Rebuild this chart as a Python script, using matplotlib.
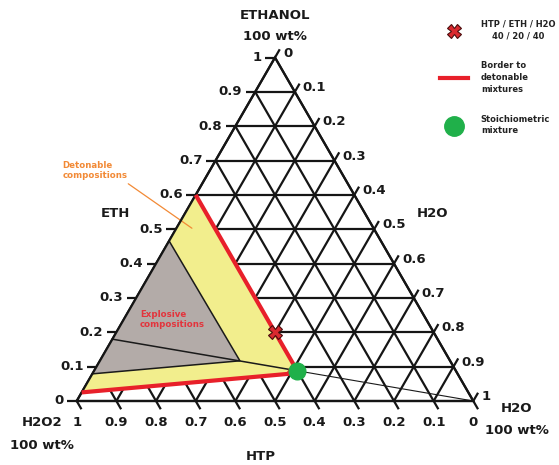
import numpy as np
import matplotlib

matplotlib.use("Agg")
import matplotlib.pyplot as plt
from matplotlib.lines import Line2D

# Compositions are mass fractions (HTP, ETH); H2O = 1 - HTP - ETH
tick_values = [0.0, 0.1, 0.2, 0.3, 0.4, 0.5, 0.6, 0.7, 0.8, 0.9, 1.0]

# detonable region border (red line), ends on the left edge
detonable_htp = [0.40, 0.40, 0.427, 0.975]
detonable_eth = [0.60, 0.105, 0.079, 0.025]

# explosive region (grey), ends on the left edge
explosive_htp = [0.534, 0.530, 0.921]
explosive_eth = [0.466, 0.117, 0.079]

# HTP/ETH dilution line towards pure water
dilution_htp = [0.82, 0.40, 0.0]
dilution_eth = [0.18, 0.088, 0.0]

mix_htp, mix_eth = 0.40, 0.20
stoich_htp, stoich_eth = 0.40, 0.088

S = np.sqrt(3) / 2
TICK = 0.024
GRID = "#151515"


def tern(htp, eth):
    htp = np.asarray(htp, dtype=float)
    eth = np.asarray(eth, dtype=float)
    h2o = 1 - htp - eth
    return h2o + eth / 2, eth * S


def fmt(v):
    if v == 0:
        return "0"
    if v == 1:
        return "1"
    return f"{v:.1f}"


fig = plt.figure(figsize=(5.59, 4.65), dpi=100)
ax = fig.add_axes([0, 0, 1, 1])
ax.set_xlim(-0.1934, 1.2161)
ax.set_ylim(-0.1614, 1.0111)
ax.axis("off")

# grid + ticks
for v in tick_values:
    x0, y0 = tern(1 - v, v)
    x1, y1 = tern(0, v)
    ax.plot([x0 - TICK, x1], [y0, y1], color=GRID, lw=1.6, zorder=1,
            solid_capstyle="butt")
    x0, y0 = tern(1 - v, 0)
    x1, y1 = tern(0, 1 - v)
    ax.plot([x0, x1 + TICK * 0.5], [y0, y1 + TICK * S], color=GRID, lw=1.6,
            zorder=1, solid_capstyle="butt")
    x0, y0 = tern(v, 1 - v)
    x1, y1 = tern(v, 0)
    ax.plot([x0, x1 + TICK * 0.5], [y0, y1 - TICK * S], color=GRID, lw=1.6,
            zorder=1, solid_capstyle="butt")

# regions
dx, dy = tern(detonable_htp, detonable_eth)
ax.fill(dx, dy, color="#f2ee8d", zorder=2, lw=0)
ex, ey = tern(explosive_htp, explosive_eth)
ax.fill(ex, ey, color="#b3aba8", zorder=3, lw=0)
ax.plot(ex, ey, color="#1a1a1a", lw=1.1, zorder=4)

lx, ly = tern(dilution_htp, dilution_eth)
ax.plot(lx[:2], ly[:2], color="#1a1a1a", lw=1.1, zorder=4)
ax.plot(lx[1:], ly[1:], color="#1a1a1a", lw=0.8, zorder=4)

# triangle outline over the fills
cx, cy = tern([1, 0, 0, 1], [0, 1, 0, 0])
ax.plot(cx, cy, color=GRID, lw=1.6, zorder=4, solid_joinstyle="miter")

ax.plot(dx, dy, color="#e8202a", lw=3.0, zorder=5, solid_capstyle="butt")

px, py = tern(mix_htp, mix_eth)
ax.plot(px, py, marker="X", ms=10, mfc="#d92a2f", mec="#4a0d0d", mew=0.8,
        ls="none", zorder=6)
sx, sy = tern(stoich_htp, stoich_eth)
ax.plot(sx, sy, marker="o", ms=12, color="#20b04a", ls="none", zorder=6)

# tick labels
lab = dict(fontsize=9.5, fontweight="bold", color="#1a1a1a")
for v in tick_values:
    x, y = tern(1 - v, v)
    ax.text(x - 0.033, y, fmt(v), ha="right", va="center", **lab)
    x, y = tern(0, 1 - v)
    ax.text(x + 0.02, y + 0.011, fmt(v), ha="left", va="center", **lab)
    x, y = tern(v, 0)
    ax.text(x, -0.055, fmt(v), ha="center", va="center", **lab)

# axis titles
ttl = dict(fontsize=9.5, fontweight="bold", color="#1a1a1a")
ax.text(0.5, 0.973, "ETHANOL", ha="center", va="center", **ttl)
ax.text(0.5, 0.918, "100 wt%", ha="center", va="center", **ttl)
ax.text(0.0966, 0.474, "ETH", ha="center", va="center", **ttl)
ax.text(0.898, 0.4715, "H2O", ha="center", va="center", **ttl)
ax.text(-0.037, -0.053, "H2O2", ha="right", va="center", **ttl)
ax.text(-0.0888, -0.111, "100 wt%", ha="center", va="center", **ttl)
ax.text(0.463, -0.141, "HTP", ha="center", va="center", **ttl)
ax.text(1.110, -0.020, "H2O", ha="center", va="center", **ttl)
ax.text(1.110, -0.0756, "100 wt%", ha="center", va="center", **ttl)

# region annotations
ax.annotate("Detonable\ncompositions", xy=tern(0.458, 0.503),
            xytext=(-0.0353, 0.5812), ha="left", va="center",
            fontsize=6.2, fontweight="bold", color="#f28a36",
            arrowprops=dict(arrowstyle="-", color="#f28a36", lw=0.9,
                            relpos=(0.93, 0.0), shrinkA=1, shrinkB=0))
ax.text(0.1596, 0.2055, "Explosive\ncompositions", ha="left", va="center",
        fontsize=6.2, fontweight="bold", color="#e3343c")

# legend
handles = [
    Line2D([], [], marker="X", ms=10, mfc="#d92a2f", mec="#4a0d0d", mew=0.8,
           ls="none"),
    Line2D([], [], color="#e8202a", lw=3.0),
    Line2D([], [], marker="o", ms=14, color="#20b04a", ls="none"),
]
labels = ["HTP / ETH / H2O\n40 / 20 / 40", "Border to\ndetonable\nmixtures",
          "Stoichiometric\nmixture"]
leg = ax.legend(handles, labels, loc="upper left",
                bbox_to_anchor=(0.787, 0.958), frameon=False,
                prop=dict(size=6, weight="bold"), handlelength=3.4,
                handletextpad=1.5, labelspacing=2.5, borderpad=0,
                borderaxespad=0)
for t in leg.get_texts():
    t.set_color("#222222")
    t.set_linespacing(1.4)
leg.get_texts()[0].set_multialignment("center")

fig.savefig("out.png", dpi=100)
